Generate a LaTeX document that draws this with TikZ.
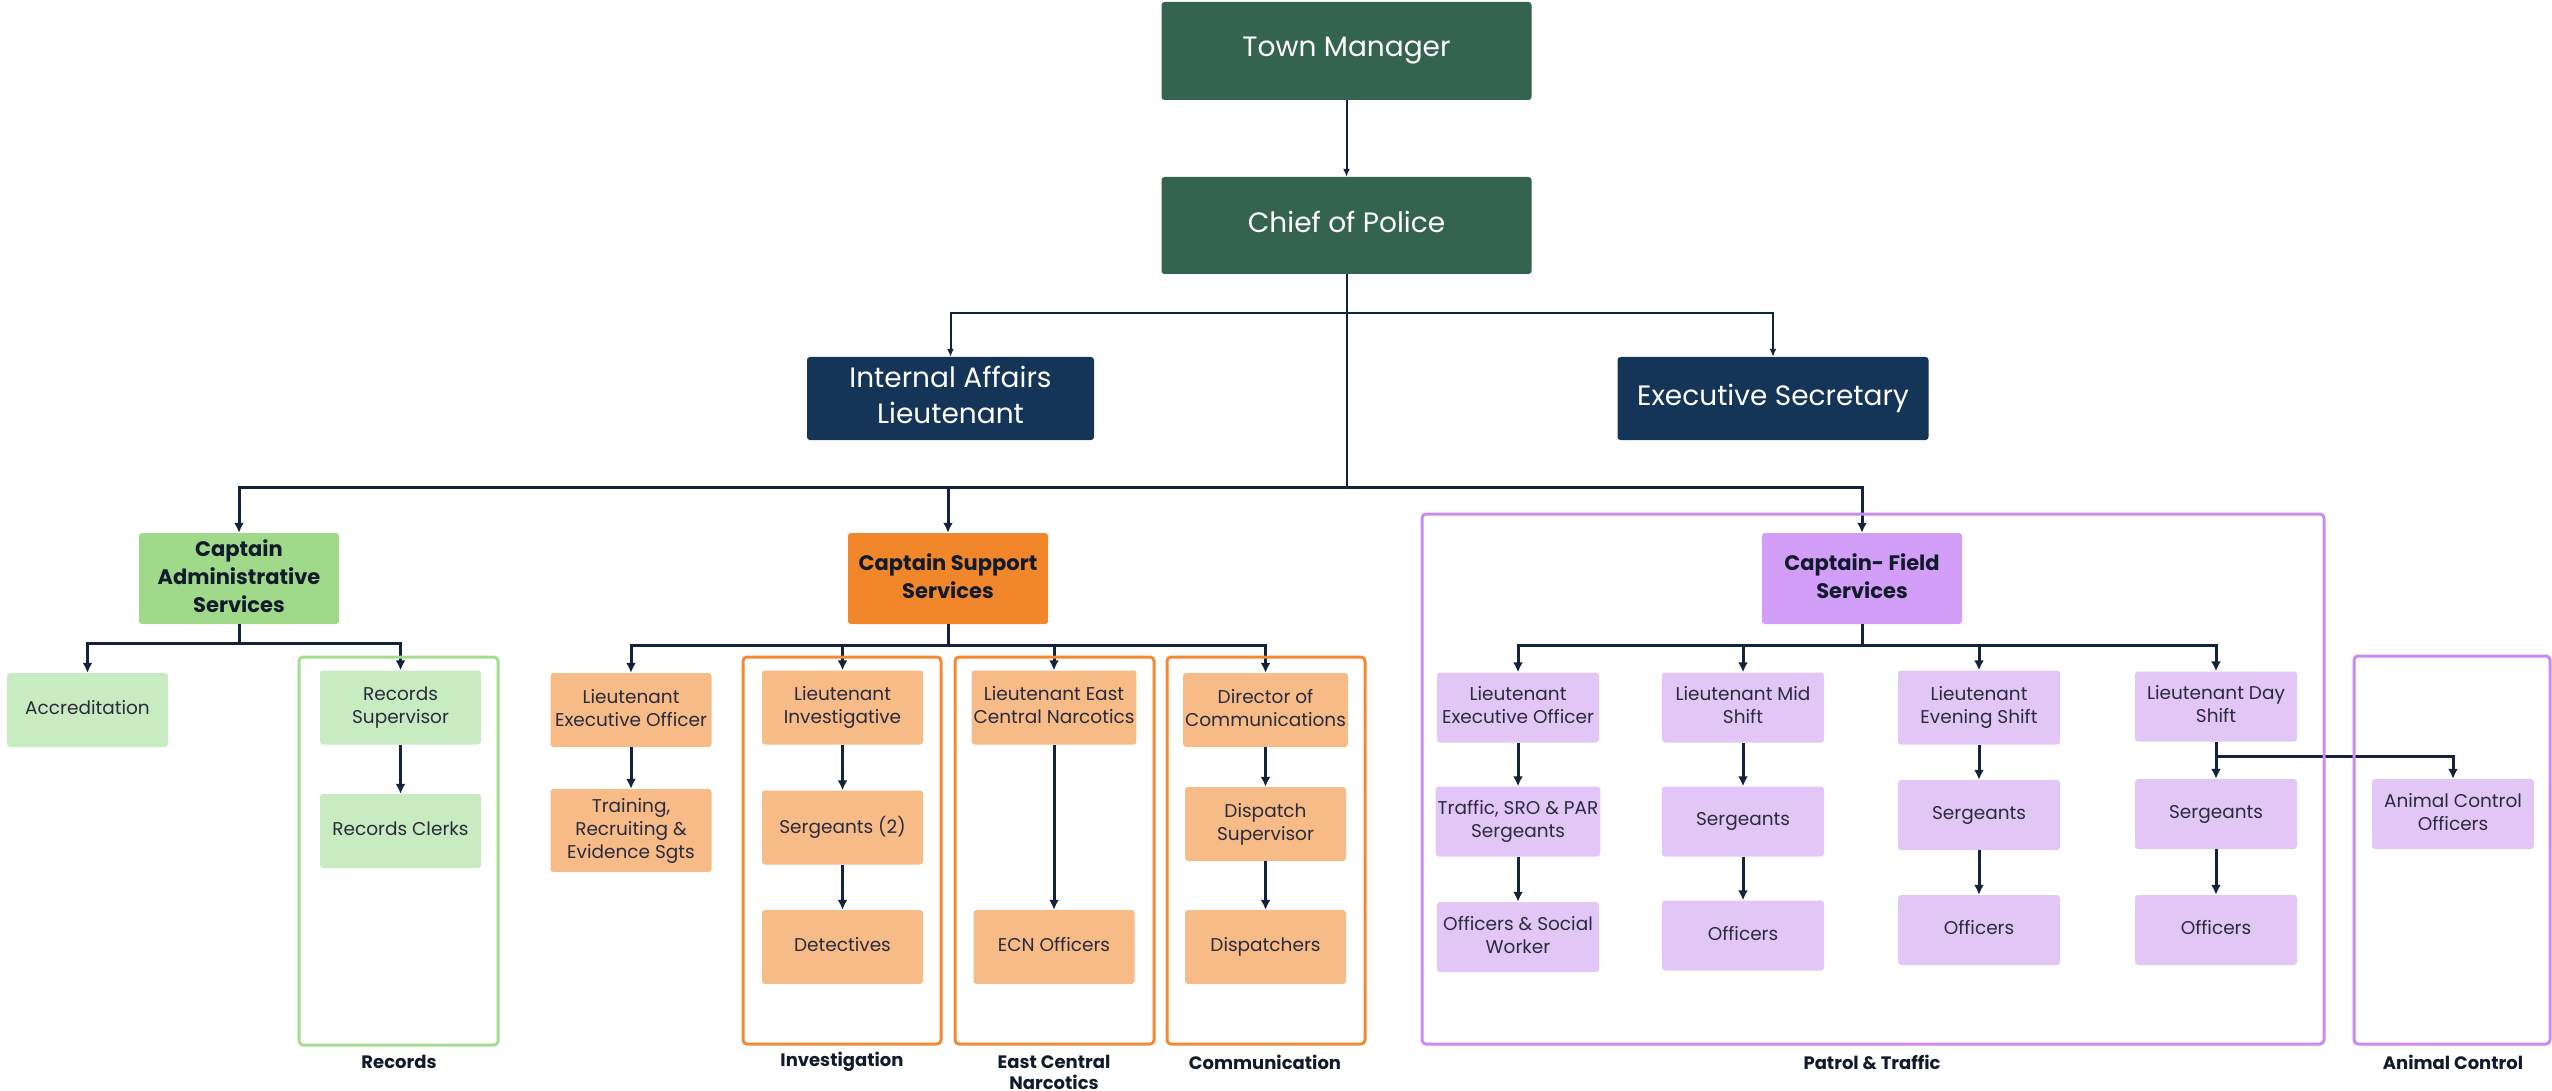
\documentclass[tikz,border=0pt]{standalone}
\usepackage{fontspec}
\setmainfont{Poppins}
\usetikzlibrary{arrows.meta}
\definecolor{dkgreen}{HTML}{346350}
\definecolor{navyc}{HTML}{143458}
\definecolor{admg}{HTML}{A0D98A}
\definecolor{ltg}{HTML}{C9EBC1}
\definecolor{grnb}{HTML}{A3DE90}
\definecolor{orgc}{HTML}{F2862A}
\definecolor{lto}{HTML}{F7BB87}
\definecolor{orgb}{HTML}{F38A32}
\definecolor{purc}{HTML}{D29EF8}
\definecolor{ltp}{HTML}{E2C7F6}
\definecolor{purb}{HTML}{C98AF6}
\definecolor{lnc}{HTML}{13233A}
\definecolor{smtxt}{HTML}{2B2B3D}
\definecolor{captxt}{HTML}{111B2B}
\tikzset{
  boxbase/.style={rectangle, rounded corners=3pt, align=center, inner sep=2pt, execute at end node={\vphantom{g}}},
  topbox/.style={boxbase, fill=dkgreen, text=white, font=\fontsize{28}{34}\selectfont, minimum width=370pt, minimum height=98pt},
  navbox/.style={boxbase, fill=navyc, text=white, font=\fontsize{28}{36}\selectfont, minimum height=83pt},
  captbox/.style={boxbase, text=captxt, font=\bfseries\fontsize{21}{28}\selectfont, minimum width=200pt, minimum height=91pt},
  smbox/.style={boxbase, text=smtxt, font=\fontsize{18.5}{23}\selectfont, minimum width=161pt, minimum height=74pt},
  fbox/.style={smbox, fill=ltp, minimum width=162pt, minimum height=70pt},
  grp/.style={draw, line width=3pt, rounded corners=4pt, inner sep=0pt},
  lineonly/.style={draw=lnc, line width=3pt},
  conn/.style={draw=lnc, line width=3pt, -{Latex[length=10pt,width=10pt]}},
  thinline/.style={draw=lnc, line width=2pt},
  thinconn/.style={draw=lnc, line width=2pt, -{Latex[length=8pt,width=7pt]}},
  grplab/.style={font=\bfseries\fontsize{18}{21}\selectfont, text=captxt, align=center}
}
\begin{document}
\begin{tikzpicture}[x=1pt,y=-1pt]
\useasboundingbox (0,0) rectangle (2552,1091);
% top level
\node[topbox] (tm) at (1346.5,51) {Town Manager};
\node[topbox, minimum height=97pt] (cop) at (1346.5,225.5) {Chief of Police};
\node[navbox, minimum width=287pt] (ia) at (950.5,398.5) {Internal Affairs\\Lieutenant};
\node[navbox, minimum width=311pt] (es) at (1773,398.5) {Executive Secretary};
% captains
\node[captbox, fill=admg] (capA) at (239,578.5) {Captain\\Administrative\\Services};
\node[captbox, fill=orgc] (capS) at (948,578.5) {Captain Support\\Services};
\node[captbox, fill=purc] (capF) at (1862,578.5) {Captain- Field\\Services};
% admin
\node[smbox, fill=ltg] (acc) at (87.5,710) {Accreditation};
\node[smbox, fill=ltg] (rs) at (400.5,707.5) {Records\\Supervisor};
\node[smbox, fill=ltg] (rc) at (400.5,831) {Records Clerks};
% support
\node[smbox, fill=lto] (sleo) at (631,710) {Lieutenant\\Executive Officer};
\node[smbox, fill=lto, minimum height=83pt] (strn) at (631,830.5) {Training,\\Recruiting \&\\Evidence Sgts};
\node[smbox, fill=lto] (linv) at (842.5,707.5) {Lieutenant\\Investigative};
\node[smbox, fill=lto] (sgt2) at (842.5,827.5) {Sergeants (2)};
\node[smbox, fill=lto] (det) at (842.5,947) {Detectives};
\node[smbox, fill=lto] (lecn) at (1054,707.5) {Lieutenant East\\Central Narcotics};
\node[smbox, fill=lto] (ecno) at (1054,947) {ECN Officers};
\node[smbox, fill=lto] (dir) at (1265.5,710) {Director of\\Communications};
\node[smbox, fill=lto] (dsup) at (1265.5,824) {Dispatch\\Supervisor};
\node[smbox, fill=lto] (disp) at (1265.5,947) {Dispatchers};
% field
\node[fbox] (feo) at (1518,707.5) {Lieutenant\\Executive Officer};
\node[fbox] (fto) at (1518,821.5) {Traffic, SRO \& PAR\\Sergeants};
\node[fbox] (fos) at (1518,937) {Officers \& Social\\Worker};
\node[fbox] (lmid) at (1743,707.5) {Lieutenant Mid\\Shift};
\node[fbox] (smid) at (1743,821.5) {Sergeants};
\node[fbox] (omid) at (1743,935.5) {Officers};
\node[fbox, minimum height=74pt] (leve) at (1979,707.5) {Lieutenant\\Evening Shift};
\node[fbox] (seve) at (1979,815) {Sergeants};
\node[fbox] (oeve) at (1979,930) {Officers};
\node[fbox] (lday) at (2216,706.5) {Lieutenant Day\\Shift};
\node[fbox] (sday) at (2216,814) {Sergeants};
\node[fbox] (oday) at (2216,930) {Officers};
\node[fbox] (aco) at (2453,814) {Animal Control\\Officers};
% junctions
\coordinate (j1) at (1346.5,313);
\coordinate (j2) at (1346.5,487);
\coordinate (ja) at (239,643);
\coordinate (js) at (948,645);
\coordinate (jf) at (1862,645);
\coordinate (jd) at (2216,756);
% connectors
\draw[thinconn] (tm) -- (cop);
\draw[thinline] (cop.south) -- (j2);
\draw[thinconn] (j1) -| (ia.north);
\draw[thinconn] (j1) -| (es.north);
\draw[conn] (j2) -| (capA.north);
\draw[conn] (j2) -| (capS.north);
\draw[conn] (j2) -| (capF.north);
\draw[lineonly] (capA.south) -- (ja);
\draw[conn] (ja) -| (acc.north);
\draw[conn] (ja) -| (rs.north);
\draw[conn] (rs) -- (rc);
\draw[lineonly] (capS.south) -- (js);
\draw[conn] (js) -| (sleo.north);
\draw[conn] (js) -| (linv.north);
\draw[conn] (js) -| (lecn.north);
\draw[conn] (js) -| (dir.north);
\draw[conn] (sleo) -- (strn);
\draw[conn] (linv) -- (sgt2);
\draw[conn] (sgt2) -- (det);
\draw[conn] (lecn) -- (ecno);
\draw[conn] (dir) -- (dsup);
\draw[conn] (dsup) -- (disp);
\draw[lineonly] (capF.south) -- (jf);
\draw[conn] (jf) -| (feo.north);
\draw[conn] (jf) -| (lmid.north);
\draw[conn] (jf) -| (leve.north);
\draw[conn] (jf) -| (lday.north);
\draw[conn] (feo) -- (fto);
\draw[conn] (fto) -- (fos);
\draw[conn] (lmid) -- (smid);
\draw[conn] (smid) -- (omid);
\draw[conn] (leve) -- (seve);
\draw[conn] (seve) -- (oeve);
\draw[conn] (lday) -- (sday);
\draw[conn] (sday) -- (oday);
\draw[conn] (jd) -| (aco.north);
% group frames
\node[grp, draw=grnb, minimum width=199pt, minimum height=388pt] (grec) at (398.5,851) {};
\node[grp, draw=orgb, minimum width=198pt, minimum height=387pt] (ginv) at (842,850.5) {};
\node[grp, draw=orgb, minimum width=199pt, minimum height=387pt] (gecn) at (1054.5,850.5) {};
\node[grp, draw=orgb, minimum width=198pt, minimum height=387pt] (gcom) at (1266,850.5) {};
\node[grp, draw=purb, minimum width=902pt, minimum height=530pt] (gpat) at (1873,779) {};
\node[grp, draw=purb, minimum width=196pt, minimum height=388pt] (gani) at (2452,850) {};
% group labels
\node[grplab] (lrec) at (399,1062) {Records};
\node[grplab] (linvl) at (842,1062) {Investigation};
\node[grplab] (lecnl) at (1054,1072) {East Central\\Narcotics};
\node[grplab] (lcom) at (1265,1062) {Communication};
\node[grplab] (lpat) at (1872,1062) {Patrol \& Traffic};
\node[grplab] (lani) at (2453,1062) {Animal Control};
\end{tikzpicture}
\end{document}
